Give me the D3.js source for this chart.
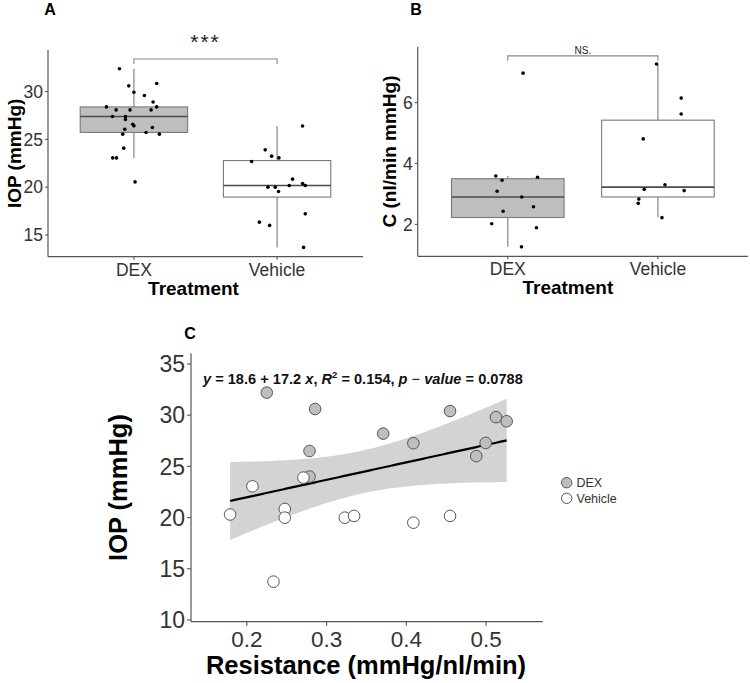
<!DOCTYPE html>
<html><head><meta charset="utf-8">
<script src="https://cdn.jsdelivr.net/npm/d3@7"></script>
<style>
body{margin:0;background:#fff}
svg{display:block}
text{font-family:"Liberation Sans",Arial,Helvetica,sans-serif}
</style>
</head><body>
<svg id="chart" width="750" height="683"></svg>
<script>
// ---------- DATA ----------
const groups = ["DEX", "Vehicle"];

// Panel A: IOP (mmHg) by treatment (jitter in category units)
const iopDEX = [28.39, 32.38, 30.59, 29.93, 29.58, 30.84, 28.91, 28.39, 28.08, 28.08, 28.08, 27.39, 27.39, 27.07, 26.58, 26.41, 26.06, 26.24, 25.54, 25.72, 25.54, 24.08, 23.06, 23.06, 20.55];
const iopDEXJitter = [-0.192, -0.101, -0.036, 0.0, 0.073, 0.159, 0.134, 0.159, -0.124, -0.027, 0.120, -0.150, -0.059, -0.059, -0.008, 0.0, -0.064, 0.129, -0.078, 0.085, 0.178, -0.071, -0.148, -0.122, 0.008];
const iopVehicle = [26.4, 23.9, 23.24, 23.06, 22.69, 20.84, 20.39, 20.18, 20.18, 20.0, 20.0, 19.55, 17.21, 16.34, 16.0, 13.7];
const iopVehicleJitter = [0.178, -0.083, -0.038, 0.013, -0.178, 0.108, 0.178, 0.197, 0.085, -0.064, -0.013, 0.010, 0.197, -0.124, -0.052, 0.185];

// Panel B: outflow facility C (nl/min mmHg)
const cDEX = [6.97, 3.59, 3.45, 3.55, 3.09, 2.90, 2.58, 2.43, 2.02, 1.89, 1.26];
const cDEXJitter = [0.102, -0.080, -0.038, 0.198, -0.071, 0.093, 0.171, -0.031, -0.107, 0.191, 0.091];
const cVehicle = [7.27, 6.15, 5.63, 4.81, 3.30, 3.15, 3.11, 2.83, 2.69, 2.22];
const cVehicleJitter = [-0.009, 0.155, 0.155, -0.098, 0.047, -0.091, 0.175, -0.127, -0.131, 0.027];

// Panel C: Resistance vs IOP
const resDEX = [0.225, 0.2856, 0.371, 0.2786, 0.2786, 0.4548, 0.5124, 0.5258, 0.4088, 0.4995, 0.4877];
const resIopDEX = [32.2, 30.6, 28.2, 26.5, 24.0, 30.4, 29.8, 29.4, 27.26, 27.29, 26.0];
const resVehicle = [0.207, 0.271, 0.179, 0.2476, 0.2476, 0.3228, 0.3345, 0.2334, 0.4088, 0.4548];
const resIopVehicle = [23.05, 23.9, 20.3, 20.84, 19.99, 19.99, 20.16, 13.74, 19.5, 20.16];

const iopTicks = [15, 20, 25, 30];
const cTicks = [2, 4, 6];
const resXTicks = [0.2, 0.3, 0.4, 0.5];
const resYTicks = [10, 15, 20, 25, 30, 35];

const sigLabelA = "***";
const sigLabelB = "NS.";
const bracketA = 33.4, bracketB = 7.54;
const tCrit = 2.093; // t(0.975, df = 19)

// ---------- STYLE ----------
const axisCol = "#555555", tickTextCol = "#333333";
const boxStroke = "#7a7a7a", medianCol = "#4a4a4a";
const dexFill = "#bebebe", vehFill = "#ffffff";

const svg = d3.select("#chart");

function yAxis(g, scale, ticks, x, fontSize, tickLen, labelGap) {
  const [y0, y1] = scale.range();
  g.append("line").attr("x1", x).attr("x2", x).attr("y1", y0).attr("y2", y1)
    .attr("stroke", axisCol).attr("stroke-width", 1.2);
  ticks.forEach(t => {
    g.append("line").attr("x1", x - tickLen).attr("x2", x).attr("y1", scale(t)).attr("y2", scale(t))
      .attr("stroke", axisCol).attr("stroke-width", 1.1);
    g.append("text").attr("x", x - tickLen - labelGap).attr("y", scale(t)).attr("dy", "0.36em")
      .attr("text-anchor", "end").attr("font-size", fontSize).attr("fill", tickTextCol).text(t);
  });
}
function xAxisLine(g, scale, y) {
  const [x0, x1] = scale.range();
  g.append("line").attr("x1", x0).attr("x2", x1).attr("y1", y).attr("y2", y)
    .attr("stroke", axisCol).attr("stroke-width", 1.2);
}

function boxPanel(opts) {
  const g = svg.append("g");
  const x = d3.scaleLinear().domain([-0.6, 1.6]).range(opts.xRange);
  const y = d3.scaleLinear().domain(opts.yDomain).range(opts.yRange);
  const unit = x(1) - x(0);
  const bw = 0.75 * unit;

  opts.series.forEach((vals, i) => {
    const s = vals.slice().sort(d3.ascending);
    const q1 = d3.quantile(s, 0.25), med = d3.quantile(s, 0.5), q3 = d3.quantile(s, 0.75);
    const iqr = q3 - q1;
    const lo = d3.min(s.filter(v => v >= q1 - 1.5 * iqr));
    const hi = d3.max(s.filter(v => v <= q3 + 1.5 * iqr));
    const cx = x(i);
    g.append("line").attr("x1", cx).attr("x2", cx).attr("y1", y(hi)).attr("y2", y(q3))
      .attr("stroke", boxStroke).attr("stroke-width", 1.1);
    g.append("line").attr("x1", cx).attr("x2", cx).attr("y1", y(q1)).attr("y2", y(lo))
      .attr("stroke", boxStroke).attr("stroke-width", 1.1);
    g.append("rect").attr("x", cx - bw / 2).attr("width", bw).attr("y", y(q3)).attr("height", y(q1) - y(q3))
      .attr("fill", opts.fills[i]).attr("stroke", boxStroke).attr("stroke-width", 1.1);
    g.append("line").attr("x1", cx - bw / 2).attr("x2", cx + bw / 2).attr("y1", y(med)).attr("y2", y(med))
      .attr("stroke", medianCol).attr("stroke-width", 1.6);
  });
  opts.series.forEach((vals, i) => {
    vals.forEach((v, k) => {
      g.append("circle").attr("cx", x(i + opts.jitter[i][k])).attr("cy", y(v)).attr("r", 1.8).attr("fill", "#000");
    });
  });

  // significance bracket
  const by = y(opts.bracket);
  g.append("path").attr("d", `M${x(0)},${by + 5}V${by}H${x(1)}V${by + 5}`)
    .attr("fill", "none").attr("stroke", "#888").attr("stroke-width", 1.1);
  g.append("text").attr("x", (x(0) + x(1)) / 2 + opts.sigDx).attr("y", by - opts.sigGap)
    .attr("text-anchor", "middle").attr("font-size", opts.sigSize).attr("fill", "#222")
    .attr("letter-spacing", opts.sigSpacing).text(opts.sigLabel);

  // axes
  yAxis(g, y, opts.ticks, opts.xRange[0], 17.5, 3, 2);
  const yb = opts.yRange[0];
  xAxisLine(g, x, yb);
  groups.forEach((gr, i) => {
    g.append("line").attr("x1", x(i)).attr("x2", x(i)).attr("y1", yb).attr("y2", yb + 3)
      .attr("stroke", axisCol).attr("stroke-width", 1.1);
    g.append("text").attr("x", x(i)).attr("y", yb + 19).attr("text-anchor", "middle")
      .attr("font-size", 17.5).attr("fill", tickTextCol).text(gr);
  });
  g.append("text").attr("x", (opts.xRange[0] + opts.xRange[1]) / 2 + opts.xTitleDx).attr("y", yb + 38)
    .attr("text-anchor", "middle").attr("font-size", 19).attr("font-weight", "bold").text("Treatment");
  g.append("text").attr("transform", `translate(${opts.yTitleX},${(opts.yRange[0] + opts.yRange[1]) / 2}) rotate(-90)`)
    .attr("text-anchor", "middle").attr("font-size", 19).attr("font-weight", "bold").text(opts.yTitle);
  g.append("text").attr("x", opts.tag[0]).attr("y", opts.tag[1]).attr("text-anchor", "middle")
    .attr("font-size", 16).attr("font-weight", "bold").text(opts.tagText);
}

boxPanel({
  xRange: [48, 363], yDomain: [12.73, 34.34], yRange: [256.7, 50],
  series: [iopDEX, iopVehicle], jitter: [iopDEXJitter, iopVehicleJitter],
  fills: [dexFill, vehFill], ticks: iopTicks, bracket: bracketA,
  sigLabel: sigLabelA, sigSize: 21, sigGap: 10, sigDx: 0, sigSpacing: 2,
  yTitle: "IOP (mmHg)", yTitleX: 21, xTitleDx: -12, tag: [50, 15], tagText: "A"
});
boxPanel({
  xRange: [417.7, 748], yDomain: [0.95, 7.84], yRange: [256.3, 46.7],
  series: [cDEX, cVehicle], jitter: [cDEXJitter, cVehicleJitter],
  fills: [dexFill, vehFill], ticks: cTicks, bracket: bracketB,
  sigLabel: sigLabelB, sigSize: 10, sigGap: 2, sigDx: 0, sigSpacing: 0,
  yTitle: "C (nl/min mmHg)", yTitleX: 396, xTitleDx: -15, tag: [416, 15], tagText: "B"
});

// ---------- PANEL C ----------
(function () {
  const g = svg.append("g");
  const x = d3.scaleLinear().domain([0.130, 0.571]).range([191, 542.7]);
  const y = d3.scaleLinear().domain([9.83, 36.04]).range([621.7, 353.3]);

  const allX = resDEX.concat(resVehicle), allY = resIopDEX.concat(resIopVehicle);
  const n = allX.length, mx = d3.mean(allX), my = d3.mean(allY);
  const sxx = d3.sum(allX, v => (v - mx) ** 2);
  const sxy = d3.sum(allX, (v, i) => (v - mx) * (allY[i] - my));
  const b = sxy / sxx, a = my - b * mx;
  const sse = d3.sum(allX, (v, i) => (allY[i] - (a + b * v)) ** 2);
  const s = Math.sqrt(sse / (n - 2));
  const [xmin, xmax] = d3.extent(allX);
  const grid = d3.range(80).map(i => xmin + (xmax - xmin) * i / 79);
  const fit = grid.map(v => {
    const yh = a + b * v;
    const se = s * Math.sqrt(1 / n + (v - mx) ** 2 / sxx);
    return { x: v, y: yh, lo: yh - tCrit * se, hi: yh + tCrit * se };
  });
  g.append("path").datum(fit).attr("fill", "#d3d3d3")
    .attr("d", d3.area().x(d => x(d.x)).y0(d => y(d.lo)).y1(d => y(d.hi)));
  g.append("path").datum(fit).attr("fill", "none").attr("stroke", "#000").attr("stroke-width", 2.2)
    .attr("d", d3.line().x(d => x(d.x)).y(d => y(d.y)));

  resDEX.forEach((v, i) => {
    g.append("circle").attr("cx", x(v)).attr("cy", y(resIopDEX[i])).attr("r", 5.8)
      .attr("fill", dexFill).attr("stroke", "#555").attr("stroke-width", 1);
  });
  resVehicle.forEach((v, i) => {
    g.append("circle").attr("cx", x(v)).attr("cy", y(resIopVehicle[i])).attr("r", 5.8)
      .attr("fill", vehFill).attr("stroke", "#555").attr("stroke-width", 1);
  });

  // axes
  yAxis(g, y, resYTicks, 191, 23, 4, 2);
  xAxisLine(g, x, 621.7);
  resXTicks.forEach(t => {
    g.append("line").attr("x1", x(t)).attr("x2", x(t)).attr("y1", 621.7).attr("y2", 625.7)
      .attr("stroke", axisCol).attr("stroke-width", 1.1);
    g.append("text").attr("x", x(t)).attr("y", 647).attr("text-anchor", "middle")
      .attr("font-size", 22.5).attr("fill", tickTextCol).text(t.toFixed(1));
  });
  g.append("text").attr("x", 366).attr("y", 674).attr("text-anchor", "middle")
    .attr("font-size", 25.5).attr("font-weight", "bold").text("Resistance (mmHg/nl/min)");
  g.append("text").attr("transform", `translate(127,487.5) rotate(-90)`)
    .attr("text-anchor", "middle").attr("font-size", 25.5).attr("font-weight", "bold").text("IOP (mmHg)");
  g.append("text").attr("x", 190).attr("y", 339).attr("text-anchor", "middle")
    .attr("font-size", 16).attr("font-weight", "bold").text("C");

  // equation label
  const eq = g.append("text").attr("x", 203).attr("y", 384).attr("font-size", 14.6).attr("font-weight", "bold").attr("fill", "#111");
  eq.append("tspan").attr("font-style", "italic").text("y");
  eq.append("tspan").text(" = 18.6 + 17.2 ");
  eq.append("tspan").attr("font-style", "italic").text("x");
  eq.append("tspan").text(", ");
  eq.append("tspan").attr("font-style", "italic").text("R");
  eq.append("tspan").attr("font-size", 9.5).attr("dy", -6).text("2");
  eq.append("tspan").attr("dy", 6).text(" = 0.154, ");
  eq.append("tspan").attr("font-style", "italic").text("p");
  eq.append("tspan").attr("font-weight", "normal").text(" \u2212 ");
  eq.append("tspan").attr("font-style", "italic").text("value");
  eq.append("tspan").text(" = 0.0788");

  // legend
  const leg = [["DEX", dexFill], ["Vehicle", vehFill]];
  leg.forEach((d, i) => {
    const ly = 482.7 + i * 15.6;
    g.append("circle").attr("cx", 566.7).attr("cy", ly).attr("r", 5.2)
      .attr("fill", d[1]).attr("stroke", "#555").attr("stroke-width", 1);
    g.append("text").attr("x", 576.5).attr("y", ly).attr("dy", "0.36em")
      .attr("font-size", 12.5).attr("fill", "#333").text(d[0]);
  });
})();
</script>
</body></html>
